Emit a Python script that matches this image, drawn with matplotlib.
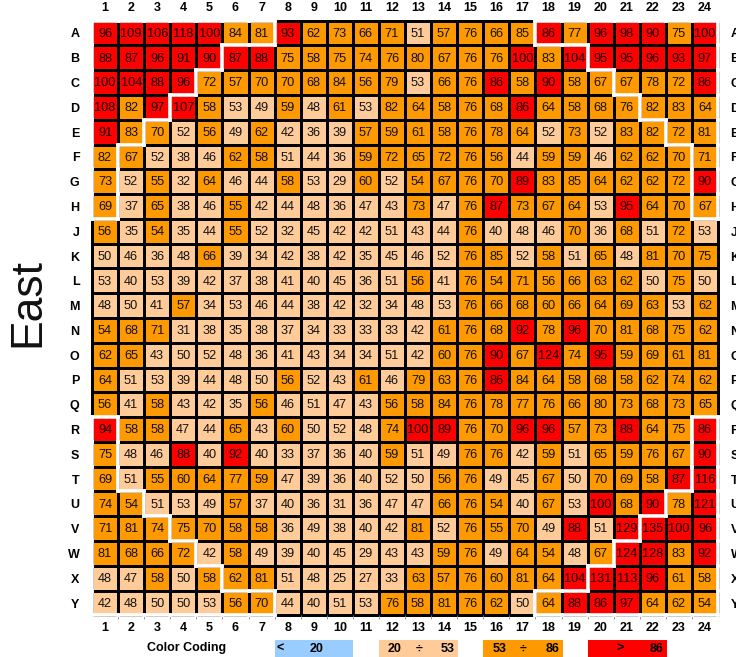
import numpy as np
import matplotlib
matplotlib.use("Agg")
import matplotlib.pyplot as plt
from matplotlib.colors import ListedColormap, BoundaryNorm
from matplotlib.collections import LineCollection
from matplotlib.patches import Rectangle

plt.rcParams['font.family'] = ['Liberation Sans', 'DejaVu Sans']

row_labels = ["A", "B", "C", "D", "E", "F", "G", "H", "J", "K", "L", "M",
              "N", "O", "P", "Q", "R", "S", "T", "U", "V", "W", "X", "Y"]
col_labels = [str(i) for i in range(1, 25)]

rows_A_H = [
    [96, 109, 106, 118, 100, 84, 81, 93, 62, 73, 66, 71, 51, 57, 76, 66, 85, 86, 77, 96, 98, 90, 75, 100],
    [88, 87, 96, 91, 90, 87, 88, 75, 58, 75, 74, 76, 80, 67, 76, 76, 100, 83, 104, 95, 95, 96, 93, 97],
    [100, 104, 88, 96, 72, 57, 70, 70, 68, 84, 56, 79, 53, 66, 76, 86, 58, 90, 58, 67, 67, 78, 72, 86],
    [108, 82, 97, 107, 58, 53, 49, 59, 48, 61, 53, 82, 64, 58, 76, 68, 86, 64, 58, 68, 76, 82, 83, 64],
    [91, 83, 70, 52, 56, 49, 62, 42, 36, 39, 57, 59, 61, 58, 76, 78, 64, 52, 73, 52, 83, 82, 72, 81],
    [82, 67, 52, 38, 46, 62, 58, 51, 44, 36, 59, 72, 65, 72, 76, 56, 44, 59, 59, 46, 62, 62, 70, 71],
    [73, 52, 55, 32, 64, 46, 44, 58, 53, 29, 60, 52, 54, 67, 76, 70, 89, 83, 85, 64, 62, 62, 72, 90],
    [69, 37, 65, 38, 46, 55, 42, 44, 48, 36, 47, 43, 73, 47, 76, 87, 73, 67, 64, 53, 95, 64, 70, 67],
]
rows_J_Q = [
    [56, 35, 54, 35, 44, 55, 52, 32, 45, 42, 42, 51, 43, 44, 76, 40, 48, 46, 70, 36, 68, 51, 72, 53],
    [50, 46, 36, 48, 66, 39, 34, 42, 38, 42, 35, 45, 46, 52, 76, 85, 52, 58, 51, 65, 48, 81, 70, 75],
    [53, 40, 53, 39, 42, 37, 38, 41, 40, 45, 36, 51, 56, 41, 76, 54, 71, 56, 66, 63, 62, 50, 75, 50],
    [48, 50, 41, 57, 34, 53, 46, 44, 38, 42, 32, 34, 48, 53, 76, 66, 68, 60, 66, 64, 69, 63, 53, 62],
    [54, 68, 71, 31, 38, 35, 38, 37, 34, 33, 33, 33, 42, 61, 76, 68, 92, 78, 96, 70, 81, 68, 75, 62],
    [62, 65, 43, 50, 52, 48, 36, 41, 43, 34, 34, 51, 42, 60, 76, 90, 67, 124, 74, 95, 59, 69, 61, 81],
    [64, 51, 53, 39, 44, 48, 50, 56, 52, 43, 61, 46, 79, 63, 76, 86, 84, 64, 58, 68, 58, 62, 74, 62],
    [56, 41, 58, 43, 42, 35, 56, 46, 51, 47, 43, 56, 58, 84, 76, 78, 77, 76, 66, 80, 73, 68, 73, 65],
]
rows_R_Y = [
    [94, 58, 58, 47, 44, 65, 43, 60, 50, 52, 48, 74, 100, 89, 76, 70, 96, 96, 57, 73, 88, 64, 75, 86],
    [75, 48, 46, 88, 40, 92, 40, 33, 37, 36, 40, 59, 51, 49, 76, 76, 42, 59, 51, 65, 59, 76, 67, 90],
    [69, 51, 55, 60, 64, 77, 59, 47, 39, 36, 40, 52, 50, 56, 76, 49, 45, 67, 50, 70, 69, 58, 87, 116],
    [74, 54, 51, 53, 49, 57, 37, 40, 36, 31, 36, 47, 47, 66, 76, 54, 40, 67, 53, 100, 68, 90, 78, 121],
    [71, 81, 74, 75, 70, 58, 58, 36, 49, 38, 40, 42, 81, 52, 76, 55, 70, 49, 88, 51, 129, 135, 100, 96],
    [81, 68, 66, 72, 42, 58, 49, 39, 40, 45, 29, 43, 43, 59, 76, 49, 64, 54, 48, 67, 124, 128, 83, 92],
    [48, 47, 58, 50, 58, 62, 81, 51, 48, 25, 27, 33, 63, 57, 76, 60, 81, 64, 104, 131, 113, 96, 61, 58],
    [42, 48, 50, 50, 53, 56, 70, 44, 40, 51, 53, 76, 58, 81, 76, 62, 50, 64, 88, 86, 97, 64, 62, 54],
]

thresholds = [20, 53, 86]
class_colors = ["#99CCFF", "#FFCC99", "#FF9900", "#FF0000"]
corner_widths = [7, 5, 4, 3, 2, 1, 1, 1]

values = np.array(rows_A_H + rows_J_Q + rows_R_Y)
nr, nc = values.shape

W, H = 736, 657
fig = plt.figure(figsize=(W / 100, H / 100), dpi=100)
gl, gr, gt, gb = 92, 718, 20.6, 615.4
ax = fig.add_axes([gl / W, 1 - gb / H, (gr - gl) / W, (gb - gt) / H])

cmap = ListedColormap(class_colors)
norm = BoundaryNorm([-1e9, thresholds[0], thresholds[1] + 0.5, thresholds[2] - 0.5, 1e9], cmap.N)
xe = np.arange(nc + 1) + 0.5
ye = np.arange(nr + 1) + 0.5
ax.pcolormesh(xe, ye, values, cmap=cmap, norm=norm, edgecolors="black",
              linewidth=2.0, clip_on=False)
ax.set_xlim(0.5, nc + 0.5)
ax.set_ylim(nr + 0.5, 0.5)
for s in ax.spines.values():
    s.set_visible(False)

for i in range(nr):
    for j in range(nc):
        v = values[i, j]
        col = "#1a0000" if v >= thresholds[2] else "#111111"
        ax.text(j + 1, i + 1 + 0.03, str(v), ha="center", va="center",
                fontsize=9.2, color=col)

# corner regions
region = np.zeros((nr, nc), dtype=int)
for k, w in enumerate(corner_widths):
    region[k, :w] = 1
    region[k, nc - w:] = 2
    region[nr - 1 - k, :w] = 3
    region[nr - 1 - k, nc - w:] = 4
segs = []
for i in range(nr):
    for j in range(nc):
        r = region[i, j]
        if r == 0:
            continue
        x0, x1 = j + 0.5, j + 1.5
        y0, y1 = i + 0.5, i + 1.5
        def other(ii, jj):
            if ii < 0 or jj < 0 or ii >= nr or jj >= nc:
                return True
            return region[ii, jj] != r
        if other(i - 1, j):
            segs.append([(x0, y0), (x1, y0)])
        if other(i + 1, j):
            segs.append([(x0, y1), (x1, y1)])
        if other(i, j - 1):
            segs.append([(x0, y0), (x0, y1)])
        if other(i, j + 1):
            segs.append([(x1, y0), (x1, y1)])
lc = LineCollection(segs, colors="white", linewidths=2.6, capstyle="projecting",
                    clip_on=False, zorder=5)
ax.add_collection(lc)

# tick labels
ax.set_xticks(np.arange(1, nc + 1))
ax.set_xticklabels(col_labels, fontsize=9, fontweight="bold")
ax.set_yticks(np.arange(1, nr + 1))
ax.set_yticklabels(row_labels, fontsize=9, fontweight="bold")
ax.tick_params(axis="x", which="major", length=0, top=True, labeltop=True,
               bottom=True, labelbottom=True, pad=5)
ax.tick_params(axis="y", which="major", length=0, left=True, labelleft=True,
               right=True, labelright=True, pad=9)
ax.set_xticks(np.arange(1.5, nc, 1), minor=True)
ax.tick_params(axis="x", which="minor", length=3, width=0.6, color="#888888",
               top=False, bottom=True)

fig.text(28 / W, 1 - 303 / H, "East", rotation=90, fontsize=32,
         ha="center", va="center", color="#111111")

# legend
fig.text(186.5 / W, 1 - 648 / H, "Color Coding", fontsize=9, fontweight="bold",
         ha="center", va="center")
box_x = [(275, 353), (379, 458), (483, 563), (588, 667)]
by0, by1 = 640, 657
for (x0, x1), c in zip(box_x, class_colors):
    fig.patches.append(Rectangle((x0 / W, 1 - by1 / H), (x1 - x0) / W, (by1 - by0) / H,
                                 transform=fig.transFigure, facecolor=c,
                                 edgecolor="none"))
legend_texts = [
    [("<", 280), (str(thresholds[0]), 317)],
    [(str(thresholds[0]), 395), ("÷", 419), (str(thresholds[1]), 448)],
    [(str(thresholds[1]), 500), ("÷", 523), (str(thresholds[2]), 553)],
    [(">", 620), (str(thresholds[2]), 657)],
]
for group in legend_texts:
    for t, x in group:
        fig.text(x / W, 1 - 648.5 / H, t, fontsize=9, fontweight="bold",
                 ha="center", va="center")

fig.savefig("out.png", dpi=100)
